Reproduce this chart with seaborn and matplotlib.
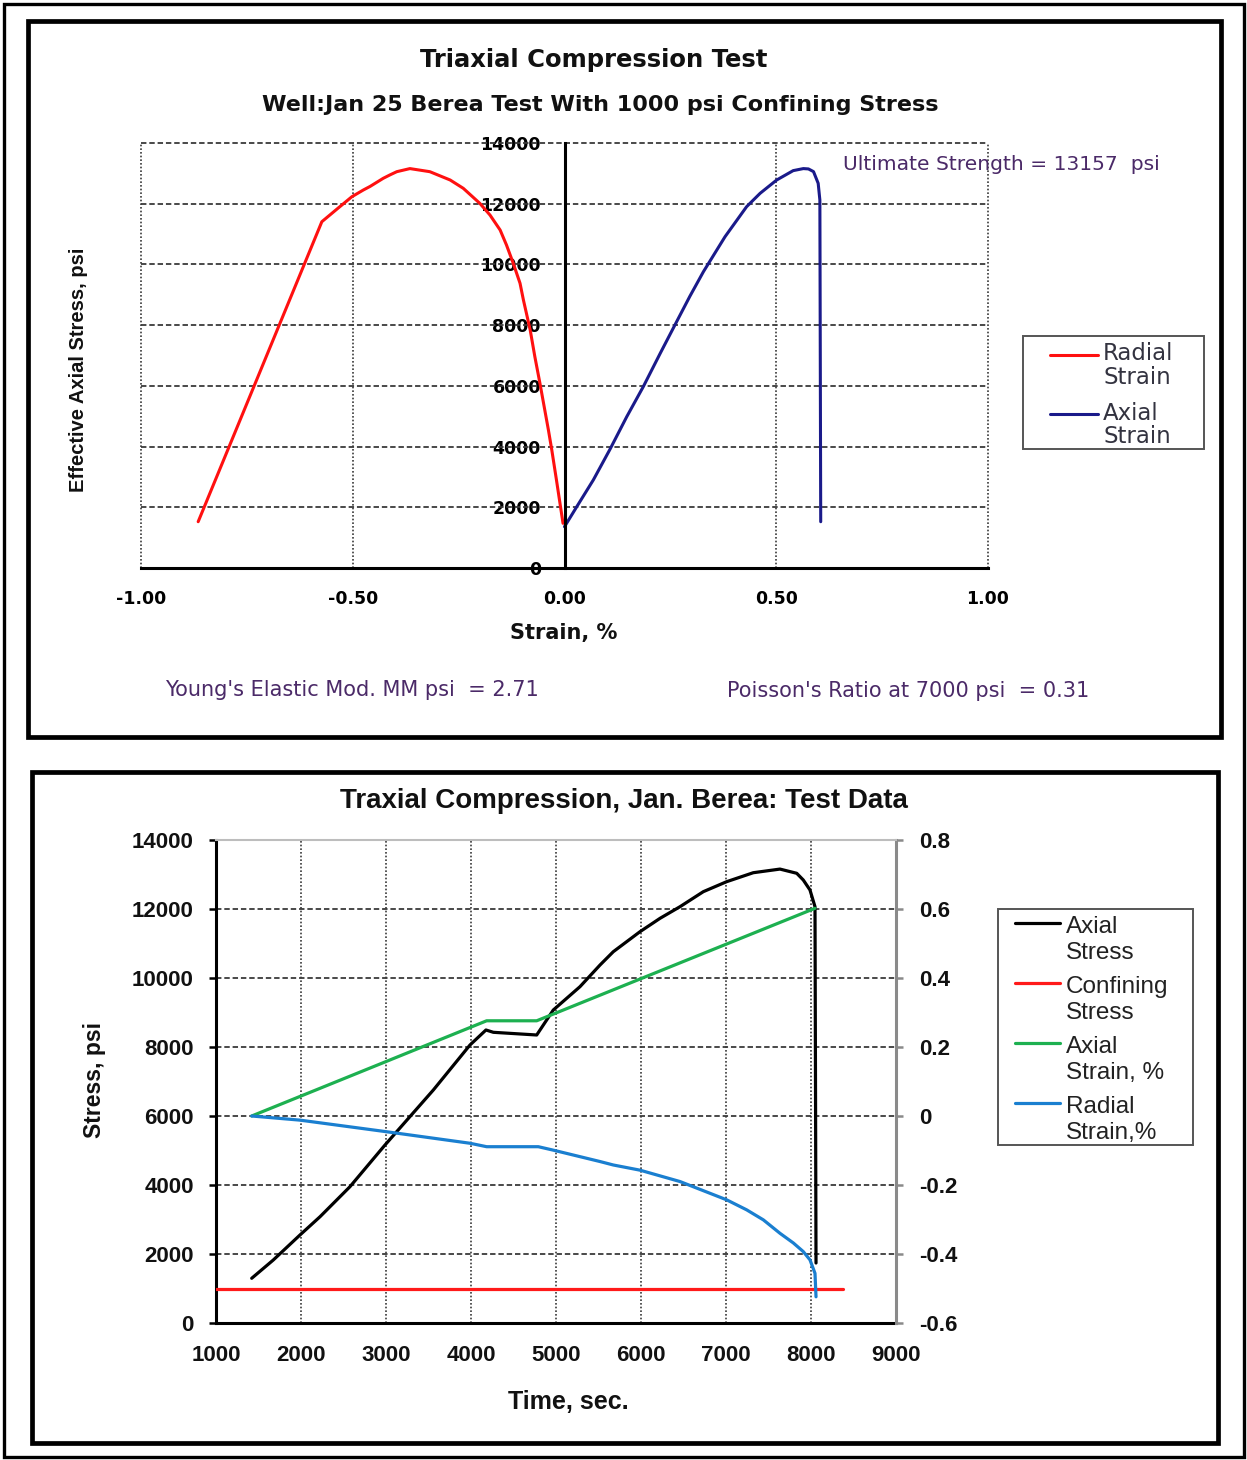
import numpy as np
import pandas as pd
import matplotlib
matplotlib.use("Agg")
import matplotlib.pyplot as plt
from matplotlib.patches import Rectangle
from matplotlib.lines import Line2D
from matplotlib.legend_handler import HandlerLine2D
import seaborn as sns

# ---- Stress-strain data (upper chart) ----
radial_strain = [-0.865, -0.573, -0.535, -0.502, -0.475, -0.459, -0.428, -0.412, -0.396,
                 -0.365, -0.318, -0.270, -0.239, -0.200, -0.176, -0.152, -0.137,
                 -0.121, -0.105, -0.097, -0.081, -0.070, -0.058, -0.038, -0.030,
                 -0.019, -0.0035]
radial_stress = [1525, 11407, 11850, 12231, 12452, 12570, 12837, 12950, 13055,
                 13157, 13055, 12781, 12507, 12013, 11628, 11134, 10640,
                 10037, 9379, 8828, 7840, 6960, 6084, 4546, 3887,
                 2899, 1472]

axial_strain = [0.0, 0.029, 0.068, 0.107, 0.147, 0.186, 0.226, 0.265, 0.296, 0.328,
                0.379, 0.430, 0.462, 0.501, 0.540, 0.564, 0.576, 0.588,
                0.599, 0.603, 0.605]
axial_stress = [1360, 2020, 2899, 3900, 4984, 5972, 7071, 8120, 8950, 9760,
                10912, 11902, 12344, 12781, 13090, 13157, 13146, 13057,
                12672, 12122, 1525]

strain_ticks = [-1.0, -0.5, 0.0, 0.5, 1.0]
stress_ticks_top = [0, 2000, 4000, 6000, 8000, 10000, 12000, 14000]

ultimate_strength = 13157
youngs_modulus = 2.71
poisson_ratio = 0.31

# ---- Test record vs. time (lower chart) ----
time_axial_stress = [1420, 1674, 1988, 2224, 2576, 2988, 3557, 3988, 4176, 4263,
                     4773, 4968, 5282, 5518, 5674, 5988, 6224, 6459, 6733, 7008,
                     7321, 7635, 7832, 7909, 7988, 8047, 8059]
axial_stress_t = [1296, 1826, 2551, 3081, 3951, 5159, 6754, 8058, 8493, 8426,
                  8348, 9072, 9748, 10377, 10762, 11342, 11730, 12067, 12502, 12792,
                  13052, 13157, 13035, 12841, 12551, 12067, 1739]

time_confining = [1000, 8376]
confining_stress = [1000, 1000]

time_axial_strain = [1420, 4184, 4773, 8047]
axial_strain_pct = [0.0, 0.276, 0.276, 0.602]

time_radial_strain = [1420, 1988, 2988, 3988, 4184, 4792, 4968, 5518, 5674, 5988,
                      6459, 7008, 7243, 7439, 7635, 7792, 7909, 7988, 8047, 8059]
radial_strain_pct = [0.0, -0.012, -0.045, -0.079, -0.089, -0.089, -0.099, -0.132,
                     -0.142, -0.157, -0.190, -0.243, -0.272, -0.301, -0.340, -0.368,
                     -0.393, -0.417, -0.456, -0.524]

time_ticks = [1000, 2000, 3000, 4000, 5000, 6000, 7000, 8000, 9000]
stress_ticks_bottom = [0, 2000, 4000, 6000, 8000, 10000, 12000, 14000]
strain_ticks_right = [-0.6, -0.4, -0.2, 0.0, 0.2, 0.4, 0.6, 0.8]
strain_tick_labels = ["-0.6", "-0.4", "-0.2", "0", "0.2", "0.4", "0.6", "0.8"]

sns.set_theme(style="white")
plt.rcParams["font.family"] = ["DejaVu Sans"]

W, H = 1247, 1460
fig = plt.figure(figsize=(W / 100, H / 100), dpi=100)


def fx(px):
    return px / W


def fy(py):
    return 1 - py / H


class FirstLineHandler(HandlerLine2D):
    """Legend line drawn level with the first line of a two-line label."""

    def __init__(self, shift, **kw):
        super().__init__(**kw)
        self.shift = shift

    def create_artists(self, legend, orig_handle, xdescent, ydescent, width, height,
                       fontsize, trans):
        arts = super().create_artists(legend, orig_handle, xdescent, ydescent, width,
                                      height, fontsize, trans)
        for a in arts:
            a.set_ydata(np.asarray(a.get_ydata()) + self.shift)
        return arts


def box(x0, y0, x1, y1, lw, color="black"):
    fig.patches.append(Rectangle((fx(x0), fy(y1)), fx(x1 - x0), (y1 - y0) / H,
                                 transform=fig.transFigure, fill=False,
                                 edgecolor=color, lw=lw))


# frames
box(4, 4, 1244, 1457, 2.4)
box(28, 21, 1221, 737, 3.4)
box(32, 772, 1218, 1443, 3.4)

# ================= upper chart =================
ax = fig.add_axes([fx(141), fy(568), fx(847), 425 / H])
grid_dash = dict(color="#3a3a3a", lw=1.3, ls=(0, (3, 1.6)))
grid_dot = dict(color="#3a3a3a", lw=1.2, ls=(0, (1, 1.2)))

df_r = pd.DataFrame({"strain": radial_strain, "stress": radial_stress})
df_a = pd.DataFrame({"strain": axial_strain, "stress": axial_stress})
sns.lineplot(data=df_r, x="strain", y="stress", sort=False, estimator=None, ax=ax,
             color="#ff1010", lw=2.2, label="Radial\nStrain", zorder=4)
sns.lineplot(data=df_a, x="strain", y="stress", sort=False, estimator=None, ax=ax,
             color="#1a1a8a", lw=2.2, label="Axial\nStrain", zorder=4)

ax.set_xlim(-1, 1)
ax.set_ylim(0, 14000)
for v in stress_ticks_top[1:]:
    ax.axhline(v, zorder=1, clip_on=False, **grid_dash)
for v in [-1.0, -0.5, 0.5, 1.0]:
    ax.axvline(v, zorder=1, clip_on=False, **grid_dot)

for s in ["top", "right"]:
    ax.spines[s].set_visible(False)
ax.spines["left"].set_position(("data", 0))
ax.spines["left"].set_color("black")
ax.spines["left"].set_linewidth(2.2)
ax.spines["left"].set_zorder(5)
ax.spines["bottom"].set_color("black")
ax.spines["bottom"].set_linewidth(2.2)

ax.set_xticks(strain_ticks)
ax.set_xticklabels([f"{v:.2f}" for v in strain_ticks])
ax.set_yticks(stress_ticks_top)
ax.set_yticklabels([str(v) for v in stress_ticks_top])
ax.tick_params(axis="both", which="both", direction="out", length=4, width=1.5,
               color="black", labelsize=12.5, labelcolor="black")
ax.tick_params(axis="x", pad=12)
ax.tick_params(axis="y", pad=13)
for lab in ax.get_xticklabels() + ax.get_yticklabels():
    lab.set_fontweight("bold")
ax.set_xlabel("")
ax.set_ylabel("")
ax.set_facecolor("none")

leg_top = ax.legend(loc="upper left", bbox_to_anchor=(fx(1050), fy(342)),
                    bbox_transform=fig.transFigure, frameon=False, fontsize=16.5,
                    handlelength=2.1, handletextpad=0.22, labelspacing=0.55,
                    borderpad=0, borderaxespad=0, labelcolor="#333340",
                    handler_map={Line2D: FirstLineHandler(8.5)})
for t in leg_top.get_texts():
    t.set_linespacing(1.05)
box(1023, 336, 1204, 449, 1.4, color="#555555")

fig.text(fx(594), fy(60), "Triaxial Compression Test", ha="center", va="center",
         fontsize=17.5, fontweight="bold", color="#111111")
fig.text(fx(600), fy(105), "Well:Jan 25 Berea Test With 1000 psi Confining Stress",
         ha="center", va="center", fontsize=16, fontweight="bold", color="#111111")
fig.text(fx(564), fy(633), "Strain, %", ha="center", va="center", fontsize=15,
         fontweight="bold", color="#111111")
fig.text(fx(78), fy(370), "Effective Axial Stress, psi", ha="center", va="center",
         rotation=90, fontsize=14.5, fontweight="bold", family="Liberation Sans",
         color="#111111")
fig.text(fx(843), fy(164), f"Ultimate Strength = {ultimate_strength}  psi", ha="left",
         va="center", fontsize=14.6, color="#4b2a68")
fig.text(fx(165), fy(690), f"Young's Elastic Mod. MM psi  = {youngs_modulus}", ha="left",
         va="center", fontsize=15, color="#4b2a68")
fig.text(fx(727), fy(691), f"Poisson's Ratio at 7000 psi  = {poisson_ratio}", ha="left",
         va="center", fontsize=15, color="#4b2a68")

# ================= lower chart =================
bx = fig.add_axes([fx(216), fy(1323), fx(680), 483 / H])
bx2 = bx.twinx()

bfont = "Liberation Sans"
df_s = pd.DataFrame({"t": time_axial_stress, "v": axial_stress_t})
df_c = pd.DataFrame({"t": time_confining, "v": confining_stress})
df_ea = pd.DataFrame({"t": time_axial_strain, "v": axial_strain_pct})
df_er = pd.DataFrame({"t": time_radial_strain, "v": radial_strain_pct})

sns.lineplot(data=df_s, x="t", y="v", sort=False, estimator=None, ax=bx, color="black",
             lw=2.3, label="Axial\nStress", zorder=4, legend=False)
sns.lineplot(data=df_c, x="t", y="v", sort=False, estimator=None, ax=bx, color="#ff1a1a",
             lw=2.3, label="Confining\nStress", zorder=4, legend=False)
sns.lineplot(data=df_ea, x="t", y="v", sort=False, estimator=None, ax=bx2, color="#1db050",
             lw=2.3, label="Axial\nStrain, %", zorder=4, legend=False)
sns.lineplot(data=df_er, x="t", y="v", sort=False, estimator=None, ax=bx2, color="#1a7fd0",
             lw=2.3, label="Radial\nStrain,%", zorder=4, legend=False)

bx.set_xlim(1000, 9000)
bx.set_ylim(0, 14000)
bx2.set_ylim(-0.6, 0.8)
for v in stress_ticks_bottom[1:-1]:
    bx.axhline(v, zorder=1, **grid_dash)
for v in time_ticks[1:-1]:
    bx.axvline(v, zorder=1, **grid_dot)

bx.set_xticks(time_ticks)
bx.set_xticklabels([str(v) for v in time_ticks])
bx.set_yticks(stress_ticks_bottom)
bx.set_yticklabels([str(v) for v in stress_ticks_bottom])
bx2.set_yticks(strain_ticks_right)
bx2.set_yticklabels(strain_tick_labels)

for a in (bx, bx2):
    for s in a.spines.values():
        s.set_visible(False)
bx.spines["left"].set_visible(True)
bx.spines["bottom"].set_visible(True)
bx.spines["left"].set_color("black")
bx.spines["bottom"].set_color("black")
bx.spines["left"].set_linewidth(2.2)
bx.spines["bottom"].set_linewidth(2.2)
bx2.spines["right"].set_visible(True)
bx2.spines["right"].set_color("#8a8a8a")
bx2.spines["right"].set_linewidth(2.2)
bx2.spines["top"].set_visible(True)
bx2.spines["top"].set_color("#bdbdbd")
bx2.spines["top"].set_linewidth(1.5)

bx.tick_params(axis="both", direction="out", length=5, width=1.8, color="black",
               labelsize=16, labelcolor="#111111")
bx.tick_params(axis="x", pad=11)
bx.tick_params(axis="y", pad=11)
bx2.tick_params(axis="y", direction="out", length=5, width=1.8, color="#8a8a8a",
                labelsize=16, labelcolor="#111111", pad=12)
for lab in bx.get_xticklabels() + bx.get_yticklabels() + bx2.get_yticklabels():
    lab.set_fontweight("bold")
    lab.set_family(bfont)
bx.set_xlabel("")
bx.set_ylabel("")
bx2.set_ylabel("")

h1, l1 = bx.get_legend_handles_labels()
h2, l2 = bx2.get_legend_handles_labels()
leg = bx2.legend(h1 + h2, l1 + l2, loc="upper left", bbox_to_anchor=(fx(1015), fy(916)),
                 bbox_transform=fig.transFigure, frameon=False,
                 prop={"family": bfont, "size": 17.5},
                 handlelength=1.85, handletextpad=0.25, labelspacing=0.48,
                 borderpad=0, borderaxespad=0, labelcolor="#222222",
                 handler_map={Line2D: FirstLineHandler(12)})
for t in leg.get_texts():
    t.set_linespacing(1.25)
box(998, 909, 1193, 1145, 1.4, color="#555555")

fig.text(fx(624), fy(801), "Traxial Compression, Jan. Berea: Test Data", ha="center",
         va="center", fontsize=20, fontweight="bold", family=bfont, color="#111111")
fig.text(fx(568), fy(1402), "Time, sec.", ha="center", va="center", fontsize=18,
         fontweight="bold", family=bfont, color="#111111")
fig.text(fx(95), fy(1080), "Stress, psi", ha="center", va="center", rotation=90,
         fontsize=16.5, fontweight="bold", family=bfont, color="#111111")

fig.savefig("out.png", dpi=100)
